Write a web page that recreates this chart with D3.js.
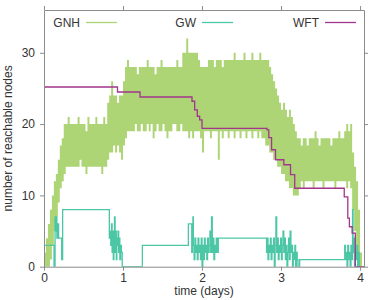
<!DOCTYPE html>
<html>
<head>
<meta charset="utf-8">
<script src="https://cdn.jsdelivr.net/npm/d3@7"></script>
<style>
body{margin:0;background:#fff}
svg{display:block}
text{font-family:"Liberation Sans",Arial,sans-serif;fill:#333}
</style>
</head>
<body>
<svg id="chart" width="374" height="300"></svg>
<script>
// GNH: range of reachable nodes per 0.025 day bin
const gnhStep=0.025;
const gnhLo=[0,0,0,1,3,5,7,9,11,12,
  13,14,14,14,14,14,14,14,15,14,14,13,14,14,14,14,14,14,14,13,14,14,
  15,16,16,17,16,17,16,15,
  17,18,19,19,19,19,20,19,19,20,19,19,20,19,20,18,19,20,19,19,20,19,18,19,19,20,20,19,19,20,19,19,
  19,18,19,18,19,19,19,18,
  16,19,19,19,18,19,19,19,15,19,18,19,19,18,19,19,18,19,19,18,19,19,18,19,19,18,19,19,18,19,18,18,
  17,17,16,16,15,15,14,14,13,13,12,12,11,11,10,10,
  10,11,12,11,12,12,12,12,11,12,12,12,12,11,12,12,12,12,12,11,12,12,12,12,12,11,12,11,8,5,2,0,0,0];
const gnhHi=[2,4,6,8,10,12,13,15,17,18,
  20,20,21,20,20,20,20,21,20,20,20,19,21,20,20,20,21,20,20,20,21,20,
  23,24,26,24,24,23,24,24,
  26,28,29,28,28,28,28,27,28,28,28,28,29,28,28,28,27,28,28,29,28,28,28,28,28,28,28,29,28,28,30,30,
  32,30,30,30,30,30,29,28,
  28,28,28,29,29,29,28,29,29,29,28,29,29,29,29,29,30,29,29,29,29,30,29,29,29,30,29,29,29,30,29,29,
  29,29,28,27,26,25,24,23,22,23,22,21,22,21,20,19,
  18,18,17,18,18,17,18,18,18,19,18,17,18,18,18,18,18,17,18,18,18,19,18,18,19,20,19,20,16,14,12,8,2,0];

// GW and WFT: [time (days), nodes], step after
const gw=[[0,7],[0.004,3],[0.127,0],[0.14,7],[0.148,5],[0.155,7],[0.163,4],[0.175,6],[0.185,4],[0.224,1],[0.236,8],
  [0.827,4],[0.835,5],[0.845,3],[0.855,6],[0.862,2],[0.87,5],[0.877,1],[0.885,4],[0.892,7],[0.9,2],[0.907,5],
  [0.915,1],[0.922,4],[0.93,3],[0.937,5],[0.945,2],[0.952,4],[0.96,1],[0.97,3],[0.98,2],[0.99,0],[1.245,3],
  [1.827,6],[1.87,2],[1.88,4],[1.885,7],[1.89,3],[1.9,1],[1.91,4],[1.92,2],[1.93,3],[1.94,1],[1.95,4],[1.96,2],
  [1.97,3],[1.98,1],[1.99,4],[2.0,0],[2.01,3],[2.02,1],[2.03,4],[2.04,2],[2.05,3],[2.06,1],[2.07,4],[2.08,2],
  [2.09,3],[2.1,5],[2.11,2],[2.12,7],[2.13,2],[2.14,4],[2.15,1],[2.16,3],[2.17,2],[2.18,4],[2.19,2],[2.206,4],
  [2.817,2],[2.825,4],[2.835,1],[2.845,3],[2.855,2],[2.865,4],[2.875,1],[2.885,3],[2.895,2],[2.905,4],[2.915,0],
  [2.925,3],[2.935,7],[2.945,2],[2.955,4],[2.965,1],[2.975,3],[2.985,2],[2.995,4],[3.005,1],[3.015,3],[3.025,5],
  [3.035,2],[3.045,4],[3.055,1],[3.065,3],[3.075,0],[3.085,2],[3.095,4],[3.105,1],[3.115,5],[3.125,2],[3.135,3],
  [3.145,0],[3.155,2],[3.165,1],[3.175,3],[3.185,0],[3.195,2],[3.205,1],[3.215,0],[3.236,1],[3.806,3],[3.815,1],
  [3.825,2],[3.835,0],[3.845,3],[3.855,1],[3.865,2],[3.875,0],[3.885,3],[3.895,1],[3.905,8],[3.912,2],[3.92,4],
  [3.93,0],[3.94,2],[3.95,1],[3.96,3],[3.97,0],[3.98,2],[3.99,0],[4.05,0]];
const wft=[[0,25.2],[0.93,24.5],[1.215,23.8],[1.873,23.2],[1.907,22.0],[1.94,21.1],[1.97,20.6],[2.0,19.4],
  [2.823,19.2],[2.845,18.1],[2.88,16.4],[2.93,15.0],[3.035,14.3],[3.12,12.9],[3.173,11.0],[3.80,9.8],
  [3.845,6.8],[3.865,5.6],[3.9,4.7],[3.94,0],[4.05,0]];

const seriesNames=["GNH","GW","WFT"];
const colors={GNH:"#add475",GW:"#4cc7a6",WFT:"#a3358c"};
const xTicks=[0,1,2,3,4];
const yTicks=[0,10,20,30];

const svg=d3.select("#chart");
const m={l:44,t:10,r:10,b:33.3};
const W=374,H=300;
const x=d3.scaleLinear().domain([0,4.05]).range([m.l,W-m.r]);
const y=d3.scaleLinear().domain([0,36]).range([H-m.b,m.t]);

svg.append("defs").append("clipPath").attr("id","clip")
  .append("rect").attr("x",m.l).attr("y",m.t).attr("width",W-m.l-m.r).attr("height",H-m.t-m.b);

const plot=svg.append("g").attr("clip-path","url(#clip)");

// GNH band
const gnhData=gnhLo.map((lo,i)=>({t:i*gnhStep,lo,hi:gnhHi[i]}));
gnhData.push({t:gnhData.length*gnhStep,lo:0,hi:0});
plot.append("path").datum(gnhData)
  .attr("fill",colors.GNH)
  .attr("d",d3.area().curve(d3.curveStepAfter).x(d=>x(d.t)).y0(d=>y(d.lo)).y1(d=>y(d.hi)));

const line=d3.line().curve(d3.curveStepAfter).x(d=>x(d[0])).y(d=>y(d[1]));
plot.append("path").datum(gw).attr("fill","none").attr("stroke",colors.GW).attr("stroke-width",1.3).attr("d",line);
plot.append("path").datum(wft).attr("fill","none").attr("stroke",colors.WFT).attr("stroke-width",1.3).attr("d",line);

// frame and ticks
function styleAxis(g){
  g.selectAll(".domain,.tick line").attr("stroke","#8c8c8c");
  g.selectAll("text").attr("font-size",12).attr("fill","#333").attr("font-family","Liberation Sans, Arial, sans-serif");
}
svg.append("g").attr("transform",`translate(0,${H-m.b})`)
  .call(d3.axisBottom(x).tickValues(xTicks).tickSize(4).tickSizeOuter(0).tickPadding(3).tickFormat(d3.format("d")))
  .call(styleAxis);
svg.append("g").attr("transform",`translate(0,${m.t})`)
  .call(d3.axisTop(x).tickValues(xTicks).tickSize(4).tickSizeOuter(0).tickFormat(""))
  .call(styleAxis);
svg.append("g").attr("transform",`translate(${m.l},0)`)
  .call(d3.axisLeft(y).tickValues(yTicks).tickSize(4).tickSizeOuter(0).tickPadding(5))
  .call(styleAxis);
svg.append("g").attr("transform",`translate(${W-m.r},0)`)
  .call(d3.axisRight(y).tickValues(yTicks).tickSize(4).tickSizeOuter(0).tickFormat(""))
  .call(styleAxis);

// axis titles
svg.append("text").attr("x",(m.l+W-m.r)/2).attr("y",295).attr("text-anchor","middle")
  .attr("font-size",12).text("time (days)");
svg.append("text").attr("transform",`translate(12,${(m.t+H-m.b)/2}) rotate(-90)`)
  .attr("text-anchor","middle").attr("font-size",12).text("number of reachable nodes");

// legend
const legX=[86,202,325];
const leg=svg.append("g");
seriesNames.forEach((name,i)=>{
  leg.append("text").attr("x",legX[i]-6).attr("y",27).attr("text-anchor","end")
    .attr("font-size",12).text(name);
  leg.append("line").attr("x1",legX[i]).attr("x2",legX[i]+31).attr("y1",22.5).attr("y2",22.5)
    .attr("stroke",colors[name]).attr("stroke-width",1.3);
});
</script>
</body>
</html>
